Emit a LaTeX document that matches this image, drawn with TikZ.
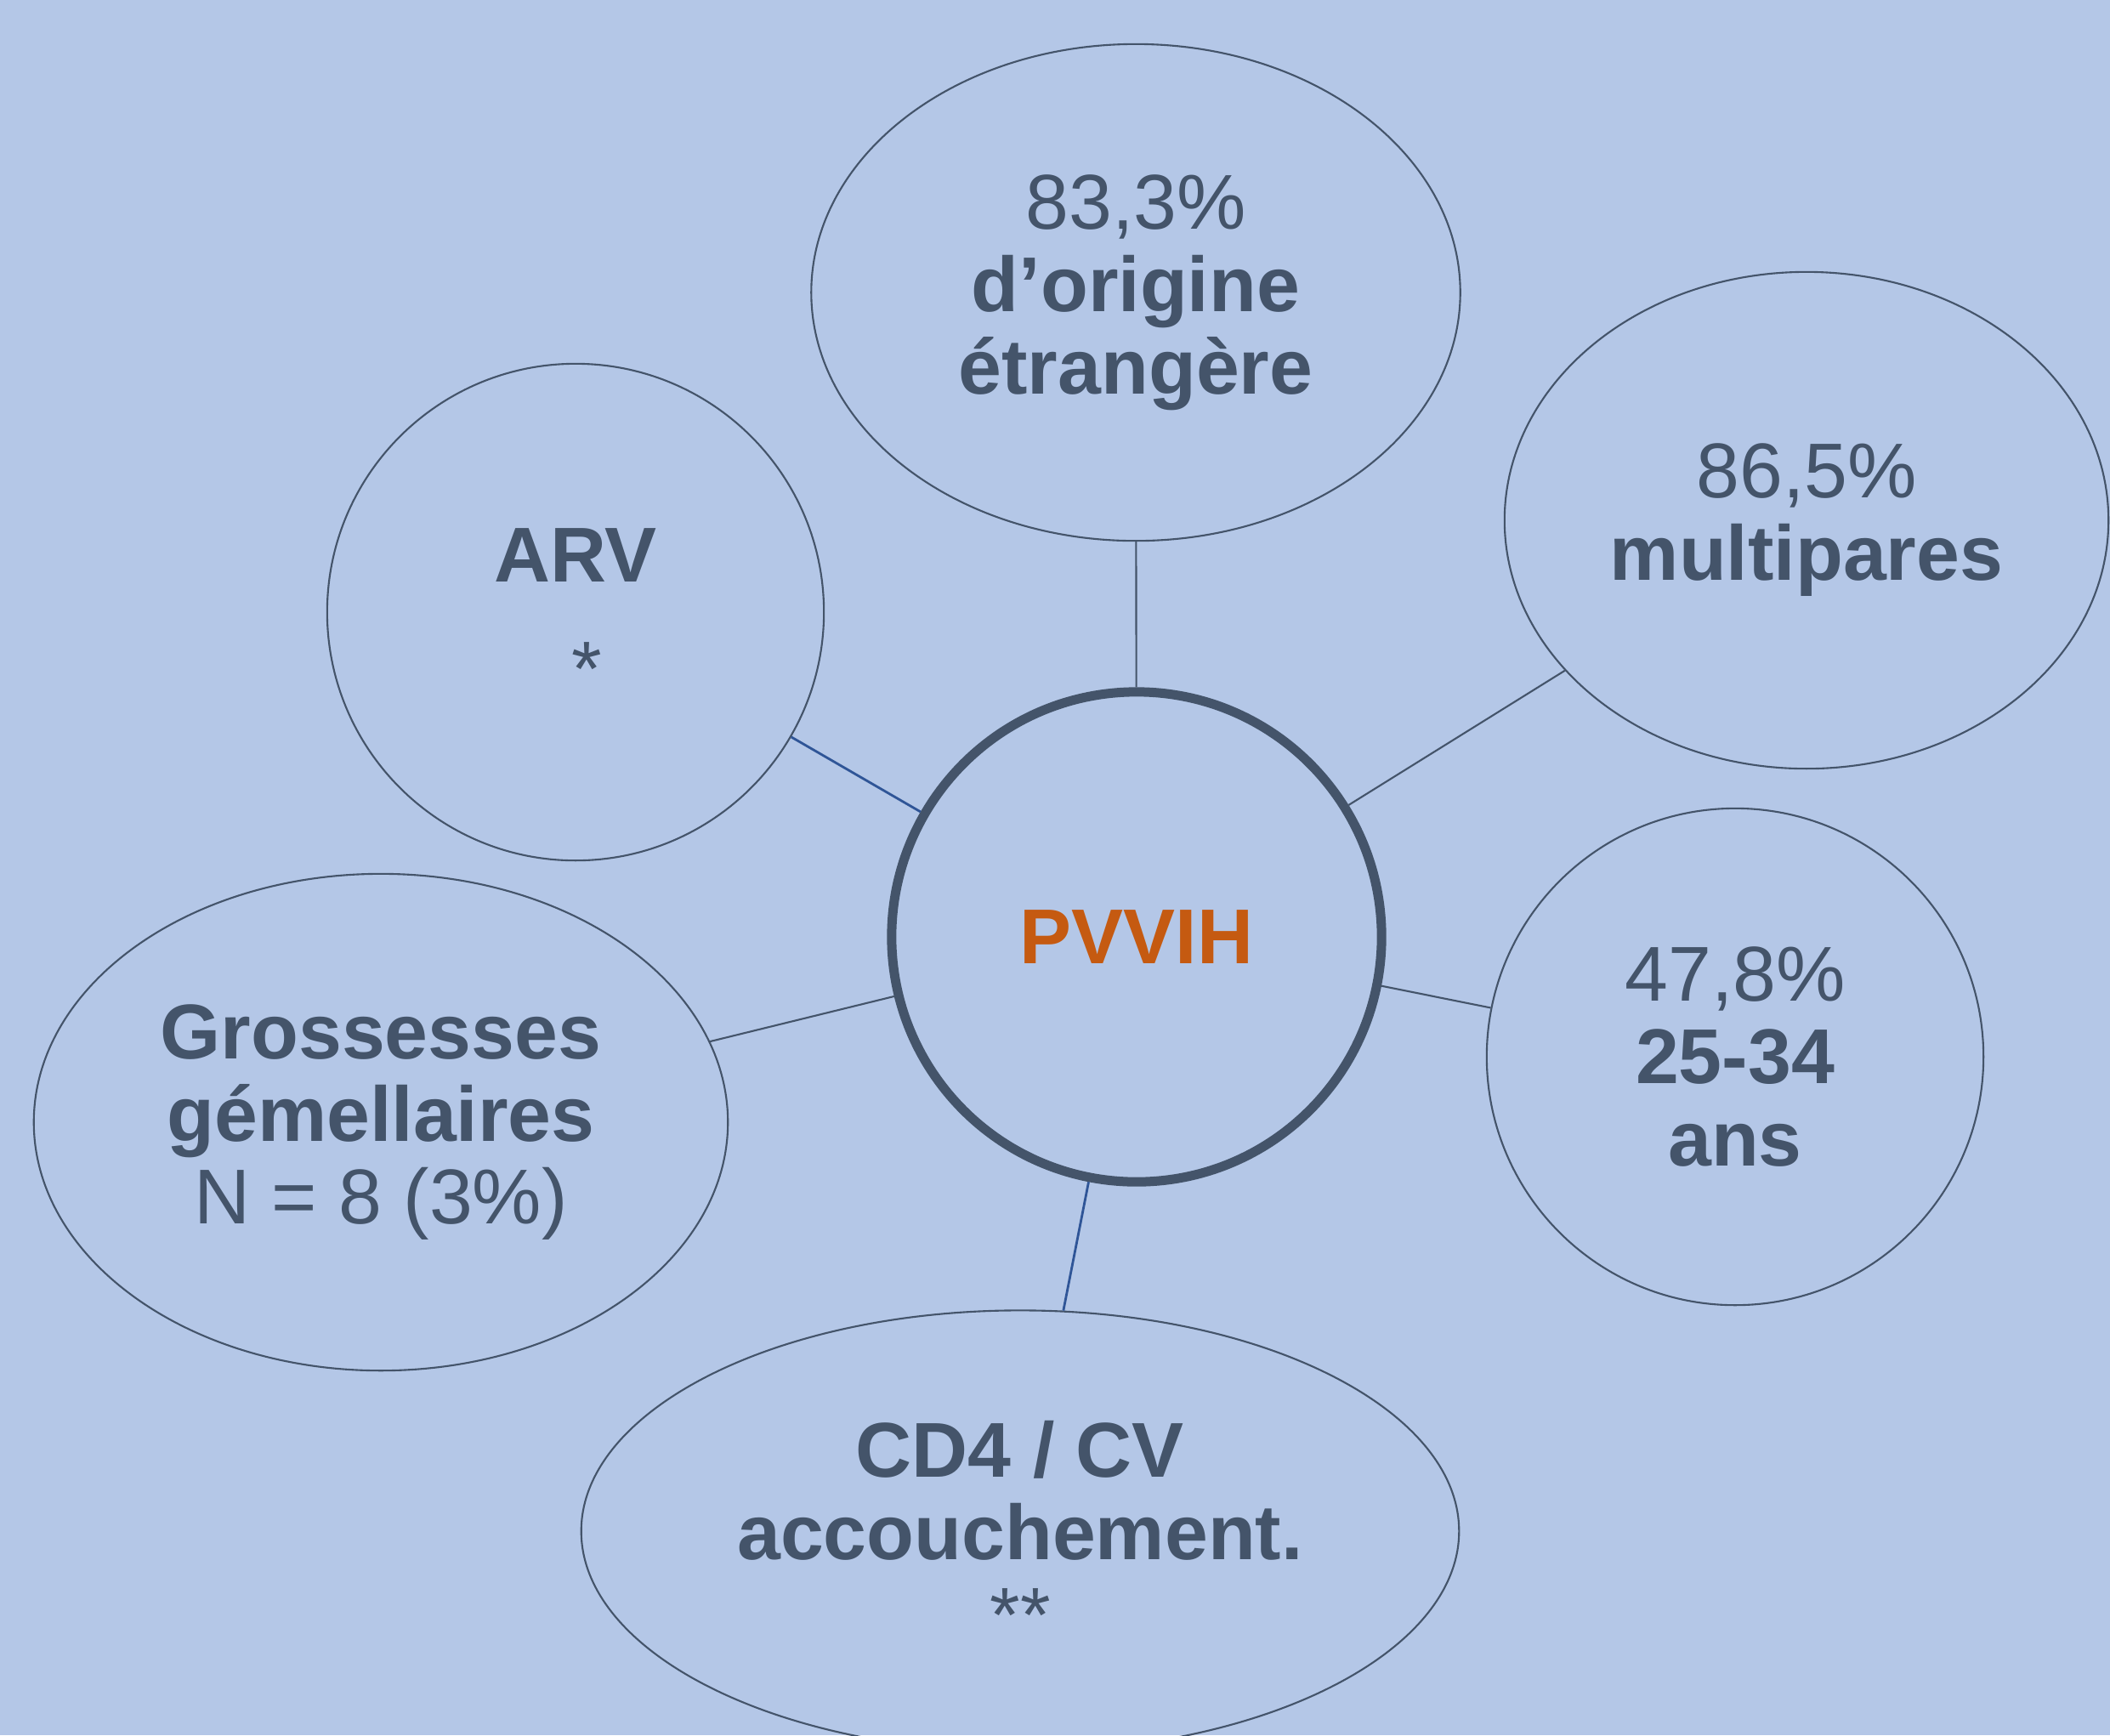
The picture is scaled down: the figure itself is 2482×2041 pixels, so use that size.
\documentclass[tikz,border=0pt]{standalone}
\usepackage{fontspec}
\setmainfont{Liberation Sans}
\usepackage{tikz}
\usetikzlibrary{shapes.geometric}

\definecolor{fondbleu}{HTML}{B4C7E7}
\definecolor{ardoise}{HTML}{44546A}
\definecolor{orangevih}{HTML}{C55A11}
\definecolor{bleulien}{HTML}{2F5597}

\begin{document}
\begin{tikzpicture}[x=0.01cm,y=-0.01cm,
    bulle/.style={ellipse, draw=ardoise, line width=0.6pt, inner sep=0pt,
      minimum height=5.84cm, text=ardoise, align=center,
      font=\fontsize{26}{27.6}\selectfont},
    rond/.style={bulle, circle, minimum size=5.84cm},
    lien/.style={draw=ardoise, line width=0.6pt},
    lienbleu/.style={draw=bleulien, line width=0.8pt}]
    % Fond
    \clip (0,0) rectangle (2482,2041);
    \fill[fondbleu] (0,0) rectangle (2482,2041);

    % Cercle central
    \node[rond, line width=0.11cm, minimum size=5.76cm, text=orangevih] (pvvih) at (1337,1102) {\textbf{PVVIH}};

    % Bulles autour
    \node[bulle, minimum width=7.63cm] (origine) at (1336,344) {83,3\%\\\textbf{d’origine}\\\textbf{étrangère}};
    \node[bulle, minimum width=7.10cm] (parite) at (2125,612) {86,5\%\\\textbf{multipares}};
    \node[rond] (arv) at (677,720) {\textbf{ARV}\\[0.36cm]\hspace*{0.26cm}*};
    \node[rond] (age) at (2041,1243) {47,8\%\\\textbf{25-34}\\\textbf{ans}};
    \node[bulle, minimum width=8.16cm] (gemel) at (448,1320) {\textbf{Grossesses}\\\textbf{gémellaires}\\N = 8 (3\%)};
    \node[bulle, minimum width=10.32cm, minimum height=5.19cm] (cd4) at (1200,1801) {\textbf{CD4 / CV}\\\textbf{accouchement.}\\**};

    % Liens vers le centre
    \draw[lien] (origine) -- (pvvih);
    \draw[lien] (parite) -- (pvvih);
    \draw[lien] (age) -- (pvvih);
    \draw[lien] (gemel) -- (pvvih);
    \draw[lienbleu] (arv) -- (pvvih);
    \draw[lienbleu] (cd4) -- (pvvih);
\end{tikzpicture}
\end{document}
